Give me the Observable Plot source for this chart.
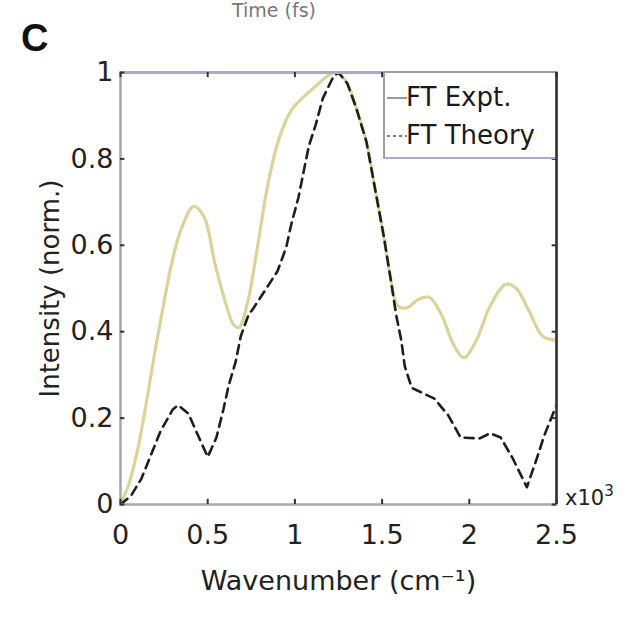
<!DOCTYPE html>
<html>
<head>
<meta charset="utf-8">
<script src="https://cdn.jsdelivr.net/npm/d3@7"></script>
<script src="https://cdn.jsdelivr.net/npm/@observablehq/plot@0.6"></script>
<style>
  html, body { margin: 0; padding: 0; background: #fff; }
  #wrap { position: relative; width: 640px; height: 619px; overflow: hidden; font-family: "DejaVu Sans", sans-serif; }
  .abs { position: absolute; white-space: nowrap; color: #222; }
</style>
</head>
<body>
<div id="wrap"></div>
<script>
// ---- data (wavenumber in units of 10^3 cm^-1) ----
const exptX = [0,0.05,0.1,0.15,0.2,0.25,0.3,0.35,0.42,0.48,0.54,0.6,0.65,0.68,0.73,0.785,0.84,0.9,0.975,1.04,1.11,1.18,1.24,1.3,1.35,1.41,1.46,1.51,1.55,1.59,1.64,1.71,1.77,1.84,1.91,1.97,2.04,2.12,2.21,2.27,2.34,2.42,2.5];
const exptY = [0,0.05,0.13,0.24,0.36,0.47,0.57,0.64,0.69,0.665,0.56,0.47,0.415,0.41,0.47,0.595,0.73,0.835,0.91,0.94,0.965,0.99,1.0,0.975,0.92,0.84,0.73,0.62,0.52,0.46,0.455,0.475,0.48,0.44,0.37,0.34,0.38,0.46,0.51,0.5,0.45,0.39,0.38];
const theoX = [0,0.06,0.12,0.17,0.23,0.3,0.33,0.39,0.45,0.5,0.55,0.59,0.62,0.66,0.69,0.735,0.755,0.82,0.9,0.95,0.98,1.02,1.05,1.08,1.12,1.16,1.22,1.25,1.3,1.35,1.41,1.46,1.51,1.55,1.58,1.61,1.63,1.67,1.8,1.88,1.95,2.06,2.12,2.18,2.25,2.33,2.39,2.43,2.48,2.5];
const theoY = [0,0.02,0.06,0.11,0.17,0.22,0.23,0.21,0.155,0.11,0.155,0.22,0.275,0.33,0.39,0.44,0.45,0.49,0.54,0.595,0.65,0.71,0.77,0.83,0.88,0.94,0.99,1.0,0.975,0.92,0.84,0.73,0.62,0.52,0.44,0.38,0.32,0.27,0.245,0.206,0.155,0.153,0.165,0.155,0.106,0.04,0.11,0.16,0.21,0.23];
const xTicks = [0, 0.5, 1, 1.5, 2, 2.5];
const xTickLabels = ["0", "0.5", "1", "1.5", "2", "2.5"];
const yTicks = [0, 0.2, 0.4, 0.6, 0.8, 1];
const yTickLabels = ["0", "0.2", "0.4", "0.6", "0.8", "1"];
const seriesNames = ["FT Expt.", "FT Theory"];

const expt = exptX.map((x, i) => ({x, y: exptY[i]}));
const theo = theoX.map((x, i) => ({x, y: theoY[i]}));

const chart = Plot.plot({
  width: 640, height: 619,
  marginLeft: 120, marginRight: 84, marginTop: 72, marginBottom: 115,
  x: {domain: [0, 2.5]},
  y: {domain: [0, 1]},
  style: {fontFamily: "DejaVu Sans, sans-serif", fontSize: "27px", color: "#222", background: "#fff"},
  marks: [
    Plot.line(expt, {x: "x", y: "y", stroke: "#dcd39a", strokeWidth: 3.2, curve: "catmull-rom"}),
    Plot.line(theo, {x: "x", y: "y", stroke: "#1e1e1e", strokeWidth: 2.6, strokeDasharray: "9,6"}),
    // frame
    Plot.frame({stroke: "#a8a8a8", strokeWidth: 2.5}),
    Plot.ruleY([1], {stroke: "#a9a9c8", strokeWidth: 3}),
    Plot.ruleX([2.5], {stroke: "#333", strokeWidth: 2.5}),
    // inward ticks
    Plot.ruleX(xTicks, {y1: 0, y2: 0.012, stroke: "#333", strokeWidth: 2}),
    Plot.ruleX(xTicks, {y1: 0.988, y2: 1, stroke: "#333", strokeWidth: 2}),
    Plot.ruleY(yTicks, {x1: 0, x2: 0.025, stroke: "#333", strokeWidth: 2}),
    Plot.ruleY(yTicks, {x1: 2.475, x2: 2.5, stroke: "#333", strokeWidth: 2}),
    Plot.axisX(xTicks, {tickSize: 0, tickPadding: 20, tickFormat: (d, i) => xTickLabels[i], label: null, fontSize: 27}),
    Plot.axisY(yTicks, {tickSize: 0, tickPadding: 7, tickFormat: (d, i) => yTickLabels[i], label: null, fontSize: 27}),
    Plot.text(["Wavenumber (cm⁻¹)"], {frameAnchor: "bottom", textAnchor: "middle", dy: 85, fontSize: 27, fill: "#222"}),
    Plot.text(["Intensity (norm.)"], {frameAnchor: "left", textAnchor: "middle", dx: -70, rotate: -90, fontSize: 26, fill: "#222"})
  ]
});
document.getElementById("wrap").appendChild(chart);

// overlays: panel label, title from panel above, exponent, legend
const wrap = document.getElementById("wrap");
function addText(txt, left, top, size, extra) {
  const d = document.createElement("div");
  d.className = "abs";
  d.style.left = left + "px"; d.style.top = top + "px";
  d.style.fontSize = size + "px"; d.style.lineHeight = "1";
  if (extra) Object.assign(d.style, extra);
  d.innerHTML = txt;
  wrap.appendChild(d);
  return d;
}
addText("Time (fs)", 232, 1, 19, {color: "#777"});
addText("C", 21, 19, 38, {fontFamily: "Liberation Sans, Arial, sans-serif", fontWeight: "bold", color: "#111"});
addText("x10<sup style='font-size:15px;vertical-align:9px'>3</sup>", 565, 484, 21, {});

// legend
const leg = document.createElement("div");
leg.style.cssText = "position:absolute;left:383px;top:71px;width:170px;height:84px;background:#fff;border:2px solid #a0a0a0;border-bottom-color:#a9a9c8;border-right:none;";
wrap.appendChild(leg);
const items = [
  {name: seriesNames[0], stroke: "#9a9a9a", dash: "none", top: 11},
  {name: seriesNames[1], stroke: "#808080", dash: "3,3", top: 49}
];
for (const it of items) {
  const s = document.createElementNS("http://www.w3.org/2000/svg", "svg");
  s.setAttribute("width", 20); s.setAttribute("height", 6);
  s.style.cssText = "position:absolute;left:2px;top:" + (it.top + 11) + "px";
  const l = document.createElementNS("http://www.w3.org/2000/svg", "line");
  l.setAttribute("x1", 0); l.setAttribute("x2", 20); l.setAttribute("y1", 3); l.setAttribute("y2", 3);
  l.setAttribute("stroke", it.stroke); l.setAttribute("stroke-width", 2);
  if (it.dash !== "none") l.setAttribute("stroke-dasharray", it.dash);
  s.appendChild(l); leg.appendChild(s);
  const t = document.createElement("div");
  t.className = "abs";
  t.style.cssText += "left:21px;top:" + it.top + "px;font-size:26px;line-height:1;color:#1a1a1a;";
  t.textContent = it.name;
  leg.appendChild(t);
}
</script>
</body>
</html>
